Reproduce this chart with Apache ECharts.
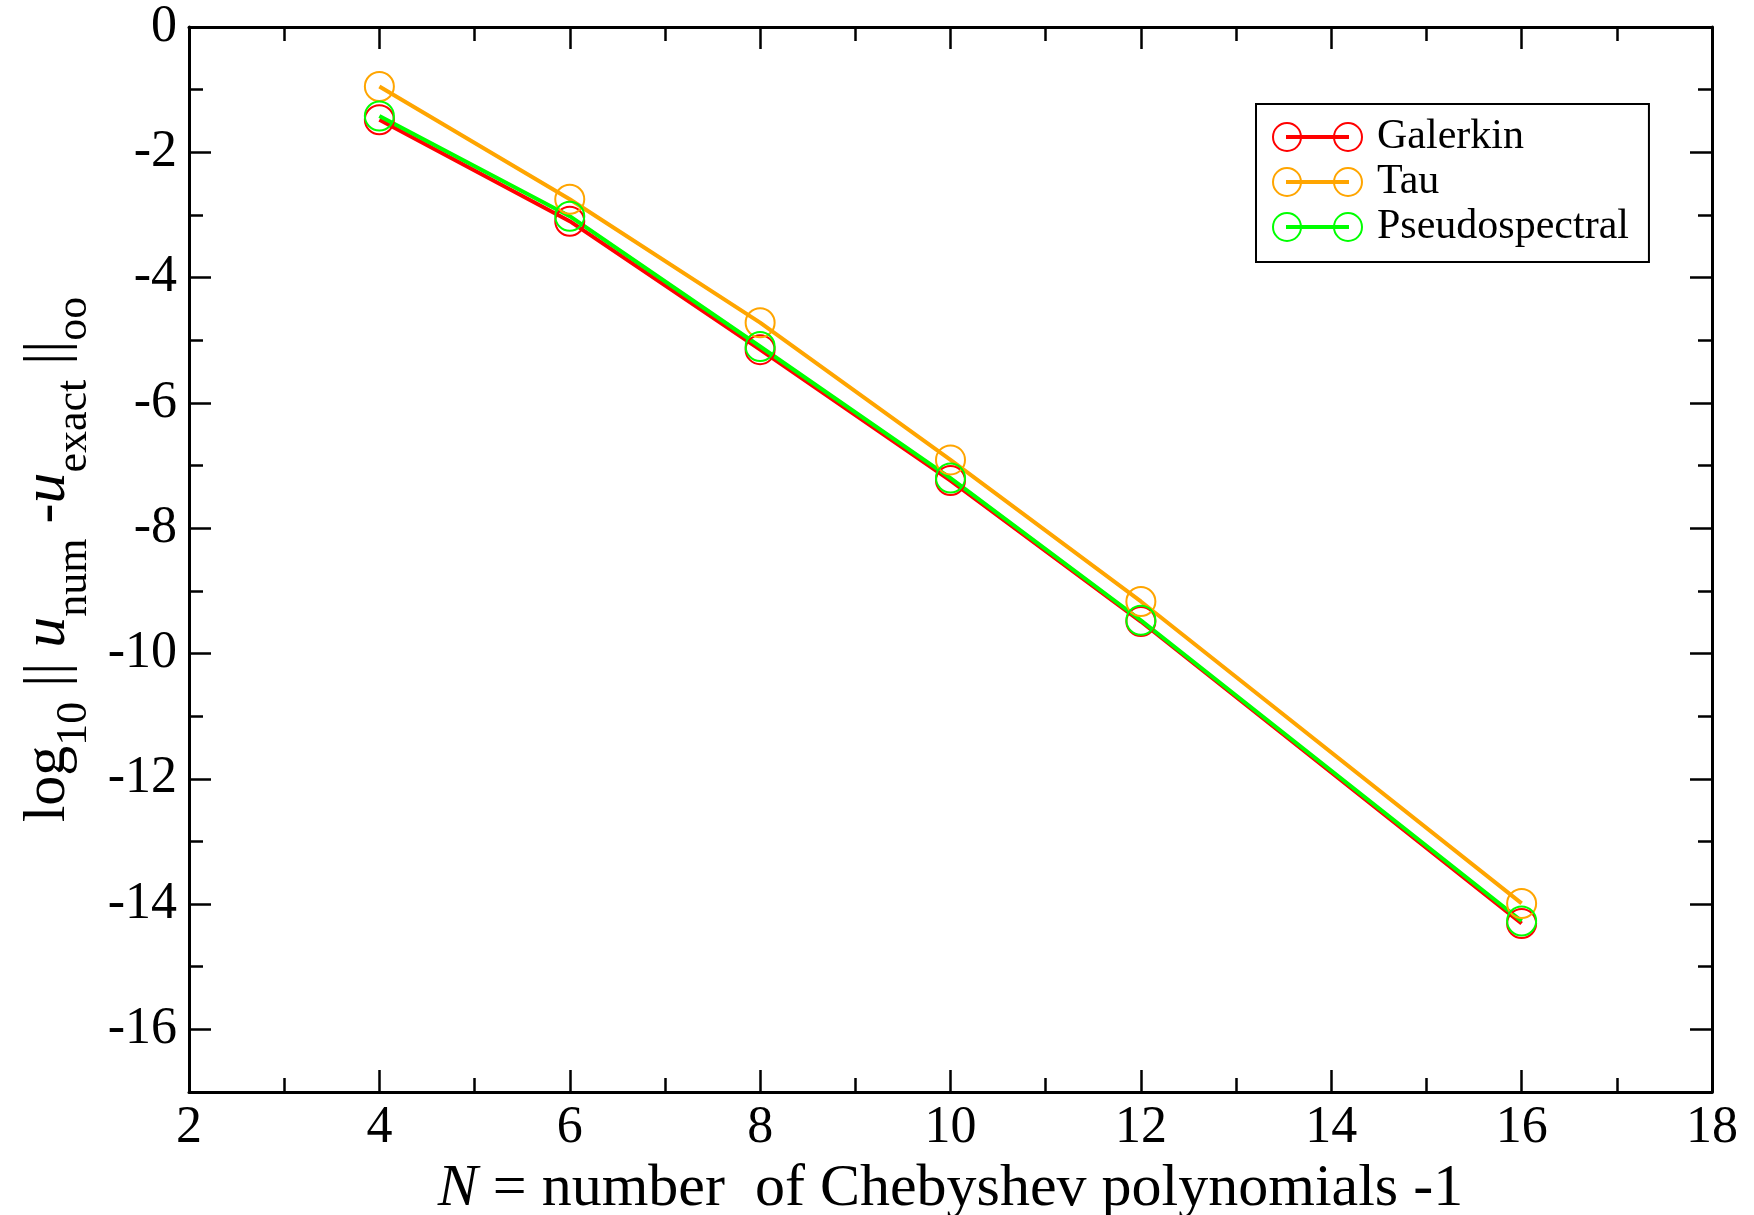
<!DOCTYPE html>
<html>
<head>
<meta charset="utf-8">
<script src="https://cdn.jsdelivr.net/npm/echarts@6.0.0/dist/echarts.min.js"></script>
<style>
  html, body { margin: 0; padding: 0; background: #fff; }
  #chart { width: 1754px; height: 1215px; }
</style>
</head>
<body>
<div id="chart"></div>
<script>
// N values and log10 of max error for each method
var nValues = [4, 6, 8, 10, 12, 16];
var galerkin = [-1.48, -3.10, -5.15, -7.24, -9.49, -14.31];
var tau = [-0.95, -2.75, -4.72, -6.91, -9.17, -13.99];
var pseudo = [-1.42, -3.02, -5.10, -7.20, -9.47, -14.27];
var yMajor = [0, -2, -4, -6, -8, -10, -12, -14, -16];

var serif = '"Liberation Serif", serif';
var black = '#000';

var myChart = echarts.init(document.getElementById('chart'));

function pairs(arr) {
    return nValues.map(function (n, i) { return [n, arr[i]]; });
}

function mkSeries(name, arr, col) {
    return {
        name: name,
        type: 'line',
        xAxisIndex: 0,
        yAxisIndex: 0,
        data: pairs(arr),
        symbol: 'circle',
        symbolSize: 29,
        itemStyle: { color: 'transparent', borderColor: col, borderWidth: 2 },
        lineStyle: { color: col, width: 4 },
        emphasis: { disabled: true },
        animation: false
    };
}

var frameLine = { show: true, onZero: false, lineStyle: { color: black, width: 3 } };
var tickStyle = { color: black, width: 2.5 };
var tickFont = { fontSize: 52, fontFamily: serif, color: black };
var majorLen = 22, minorLen = 14;

var option = {
    backgroundColor: '#fff',
    textStyle: { fontFamily: serif },
    grid: [
        { left: 189, right: 42, top: 27, bottom: 123, outerBoundsMode: 'none' },
        { left: 189, right: 42, top: 27, bottom: 123, outerBoundsMode: 'none' }
    ],
    legend: {
        orient: 'vertical',
        left: 1256,
        top: 104,
        padding: [12, 20, 14, 16],
        itemGap: 3,
        itemWidth: 89,
        itemHeight: 28,
        icon: 'path://M0,14A14,14,0,1,1,28,14A14,14,0,1,1,0,14ZM61,14A14,14,0,1,1,89,14A14,14,0,1,1,61,14ZM14,13L75,13L75,15L14,15Z',
        borderColor: black,
        borderWidth: 2,
        backgroundColor: '#fff',
        textStyle: { fontSize: 42, fontFamily: serif, color: black, padding: [0, 0, 0, 10] },
        data: [
            { name: 'Galerkin', itemStyle: { color: 'transparent', borderColor: '#ff0000', borderWidth: 2 } },
            { name: 'Tau', itemStyle: { color: 'transparent', borderColor: '#ffa500', borderWidth: 2 } },
            { name: 'Pseudospectral', itemStyle: { color: 'transparent', borderColor: '#00ff00', borderWidth: 2 } }
        ]
    },
    xAxis: [
        {
            type: 'value', gridIndex: 0, position: 'bottom',
            min: 2, max: 18, interval: 2,
            axisLine: frameLine,
            axisTick: { inside: true, length: majorLen, lineStyle: tickStyle },
            minorTick: { show: true, splitNumber: 2, length: minorLen, lineStyle: tickStyle },
            splitLine: { show: false },
            axisLabel: Object.assign({ margin: 10 }, tickFont),
            name: '{it|N}{t| = number  of Chebyshev polynomials -1}',
            nameLocation: 'middle',
            nameGap: 56,
            nameTextStyle: {
                rich: {
                    it: { fontSize: 60, fontFamily: serif, fontStyle: 'italic', color: black },
                    t: { fontSize: 60, fontFamily: serif, color: black }
                }
            }
        },
        {
            type: 'value', gridIndex: 0, position: 'top',
            min: 2, max: 18, interval: 2,
            axisLine: frameLine,
            axisTick: { inside: true, length: majorLen, lineStyle: tickStyle },
            minorTick: { show: true, splitNumber: 2, length: minorLen, lineStyle: tickStyle },
            splitLine: { show: false },
            axisLabel: { show: false }
        },
        {
            type: 'value', gridIndex: 1, show: false, min: 2, max: 18
        }
    ],
    yAxis: [
        {
            type: 'value', gridIndex: 0, position: 'left',
            min: -17, max: 0,
            axisLine: frameLine,
            axisTick: { inside: true, length: majorLen, lineStyle: tickStyle, customValues: yMajor },
            splitLine: { show: false },
            axisLabel: Object.assign({ margin: 12, customValues: yMajor }, tickFont),
            name: '{t|log}{sub|10}{t| || }{it|u}{sub|num}{t| -}{it|u}{sub|exact}{t| ||}{sub|oo}',
            nameLocation: 'middle',
            nameGap: 100,
            nameTextStyle: {
                rich: {
                    t: { fontSize: 60, fontFamily: serif, color: black, lineHeight: 64 },
                    it: { fontSize: 62, fontFamily: serif, fontStyle: 'italic', color: black, lineHeight: 64 },
                    sub: { fontSize: 44, fontFamily: serif, color: black, lineHeight: 44, padding: [54, 0, 0, 0] }
                }
            }
        },
        {
            type: 'value', gridIndex: 0, position: 'right',
            min: -17, max: 0,
            axisLine: frameLine,
            axisTick: { inside: true, length: majorLen, lineStyle: tickStyle, customValues: yMajor },
            splitLine: { show: false },
            axisLabel: { show: false }
        },
        {
            // minor ticks on the left (odd values)
            type: 'value', gridIndex: 1, position: 'left',
            min: -17, max: 0, interval: 2,
            axisLine: { show: false, onZero: false },
            axisTick: { inside: true, length: minorLen, lineStyle: tickStyle },
            splitLine: { show: false },
            axisLabel: { show: false }
        },
        {
            type: 'value', gridIndex: 1, position: 'right',
            min: -17, max: 0, interval: 2,
            axisLine: { show: false, onZero: false },
            axisTick: { inside: true, length: minorLen, lineStyle: tickStyle },
            splitLine: { show: false },
            axisLabel: { show: false }
        }
    ],
    series: [
        mkSeries('Galerkin', galerkin, '#ff0000'),
        mkSeries('Tau', tau, '#ffa500'),
        mkSeries('Pseudospectral', pseudo, '#00ff00')
    ]
};

myChart.setOption(option);
window.addEventListener('resize', function () {
    myChart.resize();
});
</script>
</body>
</html>
